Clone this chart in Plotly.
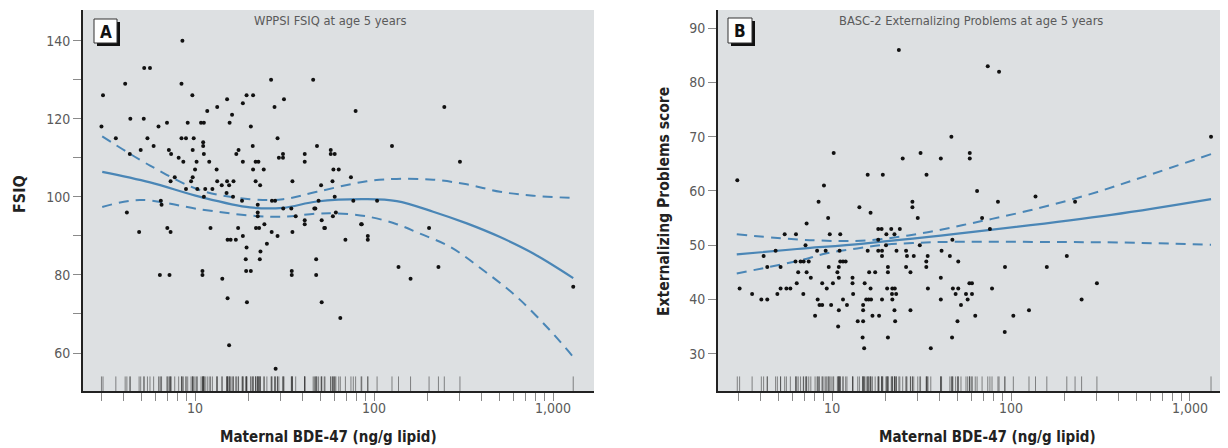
import plotly.graph_objects as go

# The page has an 8 px body margin, so the figure is drawn 8 px smaller
# and all pixel positions below are measured in window coordinates.
WIN_W, WIN_H = 1228, 448
OFF = 8
W, H = WIN_W - OFF, WIN_H - OFF

# ---------------- Panel A: WPPSI FSIQ ----------------
a_bde = [8.5, 5.2, 5.6, 4.07, 8.4, 26.6, 45.7, 3.06, 9.66, 19.4,
         21.1, 15.1, 31.4, 18.5, 13.3, 11.7, 27.8, 16.1, 4.35, 5.17,
         3.0, 6.25, 6.97, 9.1, 10.8, 11.2, 15.6, 20.5, 3.61, 5.42,
         8.4, 8.9, 9.83, 28.9, 5.87, 4.97, 11.1, 11.1, 21.0, 48,
         7.14, 9.7, 17.5, 17.0, 7.35, 4.32, 11.2, 31, 31, 41,
         41, 29.4, 8.1, 8.6, 10.2, 12.0, 18.5, 21.8, 22.6, 21.1,
         24.2, 13.2, 10.0, 9.7, 9.5, 7.7, 7.3, 13.3, 15.1, 15.5,
         16.4, 14.1, 21.8, 23.1, 35, 8.9, 10.3, 11.4, 12.5, 15.0,
         16.3, 11.2, 18.3, 26.9, 28.0, 6.44, 6.5, 4.16, 22.4, 22.4,
         22.4, 31.1, 34.5, 47, 36.5, 41, 41, 24.4, 7.0, 12.2,
         17.4, 21.9, 22.8, 4.87, 7.3, 18.5, 26.8, 28.9, 35.0, 15.2,
         15.8, 16.9, 19.4, 25.2, 23.2, 19.2, 23.0, 47.5, 19.3, 20.5,
         11.0, 11.0, 6.36, 7.2, 34.7, 34.7, 47.5, 14.2, 15.2, 19.5,
         15.5, 28.2, 78.9, 247, 57.3, 57.3, 60.3, 126, 302, 59.3,
         63.5, 74.3, 58.6, 50.6, 49, 60.3, 76.6, 104, 46.4, 58.9,
         61.2, 51, 84.7, 52.7, 203, 53.2, 85.4, 69.2, 92.3, 92.3,
         51, 64.8, 137, 229, 160, 1297]
a_fsiq = [140, 133, 133, 129, 129, 130, 130, 126, 126, 126,
          126, 125, 125, 124, 123, 122, 123, 121, 120, 120,
          118, 118, 119, 119, 119, 119, 119, 118, 115, 115,
          115, 115, 115, 115, 113, 112, 114, 113, 113, 113,
          112, 112, 112, 111, 111, 111, 111, 111, 110, 111,
          109, 110, 110, 109, 109, 109, 109, 109, 109, 107,
          107, 107, 107, 105, 104, 105, 104, 104, 104, 103,
          104, 103, 104, 103, 104, 102, 102, 102, 102, 101,
          100, 100, 99, 99, 99, 99, 98, 96, 98, 96,
          95, 97, 97, 97, 95, 94, 93, 93, 92, 92,
          92, 92, 92, 91, 91, 90, 91, 90, 91, 89,
          89, 89, 87, 88, 86, 84, 84, 84, 81, 81,
          81, 80, 80, 80, 81, 80, 80, 79, 74, 73,
          62, 56, 122, 123, 112, 111, 111, 113, 109, 107,
          107, 105, 104, 103, 99, 100, 99, 99, 97, 95,
          96, 94, 93, 92, 92, 92, 93, 89, 90, 89,
          73, 69, 82, 82, 79, 77]

a_fit_x = [3.03, 5.61, 10.7, 20.3, 31.0, 47.9, 91.0, 134, 214, 330, 506, 776, 1297]
a_fit = [106.4, 103.7, 100.0, 97.3, 97.2, 98.8, 99.4, 98.9, 96.2, 93.2, 89.7, 85.5, 79.2]
a_upper_x = [3.03, 5.61, 10.7, 20.3, 31.0, 47.9, 91.0, 134, 214, 330, 506, 776, 1297]
a_upper = [115.5, 108.0, 101.7, 99.4, 99.4, 101.3, 104.0, 104.6, 104.4, 103.2, 101.3, 100.3, 99.7]
a_lower_x = [3.03, 4.9, 10.7, 20.3, 31.0, 47.9, 60, 91, 134, 180, 266, 408, 627, 962, 1297]
a_lower = [97.4, 99.2, 96.8, 95.2, 94.9, 95.7, 95.8, 95.0, 93.0, 90.6, 87.2, 81.2, 74.4, 65.8, 59.0]

# ---------------- Panel B: BASC-2 Externalizing ----------------
b_bde = [23.6, 2.95, 10.2, 9.0, 8.4, 9.5, 7.2, 14.2, 16.4, 15.8,
         19.2, 24.8, 31.2, 33.7, 28.1, 28.1, 30.1, 40.5, 74.1, 85.7,
         46.4, 58.8, 58.8, 1312, 64.6, 84.5, 137, 228, 68.9, 76.2,
         47, 30.9, 28.6, 34.2, 40.9, 45.5, 50.7, 33.6, 33.6, 92.5,
         158.5, 205, 302, 248, 27.4, 40.5, 34.3, 47.3, 50.7, 49,
         56, 60.5, 58.5, 60.5, 78.3, 40.5, 57.2, 52.5, 27.4, 63.1,
         103, 126, 50.2, 92.2, 46.8, 35.6, 3.04, 3.57, 4.02, 4.34,
         4.14, 4.34, 4.83, 4.94, 5.15, 5.15, 5.55, 5.84, 5.43, 6.28,
         6.24, 6.66, 6.34, 6.9, 6.46, 7.1, 6.93, 7.4, 7.2, 7.6,
         8.03, 8.24, 8.3, 8.5, 8.8, 8.8, 9.2, 9.33, 9.57, 9.7,
         9.87, 10.1, 10.7, 10.9, 10.9, 10.9, 11.1, 11.0, 10.8, 11.1,
         11.5, 11.9, 11.5, 12.1, 13.0, 13.0, 13.1, 13.9, 14.9, 14.8,
         15.1, 14.9, 14.9, 15.2, 15.5, 16.0, 16.5, 15.8, 16.1, 17.4,
         16.4, 16.8, 18.3, 19.0, 18.1, 18.9, 18.1, 19.0, 19.0, 18.1,
         20.1, 20.5, 20.5, 20.3, 20.5, 21.4, 22.3, 23.9, 21.7, 22.4,
         21.6, 22.8, 21.7, 22.3, 22.5, 22.9, 25.9, 26.2, 25.9, 20.0]
b_ext = [86, 62, 67, 61, 58, 55, 54, 57, 56, 63,
         63, 66, 67, 63, 58, 57, 55, 66, 83, 82,
         70, 67, 66, 70, 60, 58, 59, 58, 55, 53,
         51, 50, 48, 48, 49, 48, 47, 47, 46, 46,
         46, 48, 43, 40, 45, 44, 42, 42, 42, 41,
         41, 41, 43, 43, 42, 40, 40, 39, 38, 37,
         37, 38, 36, 34, 33, 31, 42, 41, 40, 40,
         48, 46, 49, 41, 46, 42, 42, 42, 52, 52,
         47, 47, 43, 41, 45, 50, 47, 47, 45, 44,
         37, 49, 40, 39, 39, 43, 49, 42, 46, 52,
         39, 43, 45, 44, 46, 38, 52, 49, 35, 47,
         47, 47, 40, 39, 44, 43, 41, 36, 36, 33,
         31, 39, 38, 43, 40, 40, 40, 49, 45, 45,
         42, 37, 37, 40, 53, 53, 49, 49, 48, 51,
         52, 46, 45, 42, 33, 53, 52, 53, 42, 42,
         41, 41, 40, 38, 36, 49, 49, 48, 46, 50]

b_fit_x = [2.93, 6.37, 15.0, 59.7, 363, 1312]
b_fit = [48.3, 49.3, 50.3, 52.4, 55.6, 58.5]
b_upper_x = [2.93, 7.94, 15.8, 31.6, 63.1, 126, 263, 550, 1312]
b_upper = [52.0, 50.9, 50.9, 52.2, 54.2, 56.4, 59.2, 62.6, 66.8]
b_lower_x = [2.93, 4.47, 6.61, 9.33, 13.8, 20.0, 28.2, 41.7, 158, 398, 1312]
b_lower = [44.8, 46.0, 47.2, 48.5, 49.4, 50.1, 50.4, 50.6, 50.6, 50.5, 50.1]

# ---------------- axis settings ----------------
a_xrange = [0.374, 3.229]
a_yrange = [50.27, 147.86]
b_xrange = [0.362, 3.196]
b_yrange = [23.12, 93.37]

minor_x = [3, 4, 5, 6, 7, 8, 9, 10, 20, 30, 40, 50, 60, 70, 80, 90,
           100, 200, 300, 400, 500, 600, 700, 800, 900, 1000]
major_labels = {10: "10", 100: "100", 1000: "1,000"}
x_ticktext = [major_labels.get(v, "") for v in minor_x]

a_yticks = [60, 70, 80, 90, 100, 110, 120, 130, 140]
a_yticktext = ["60", "", "80", "", "100", "", "120", "", "140"]
b_yticks = [30, 40, 50, 60, 70, 80, 90]

FONT = "Liberation Sans Narrow, DejaVu Sans Condensed, Arial Narrow, sans-serif"
BLUE = "#4a86b6"
BG = "#dde0e2"


def px(x):
    return (x - OFF) / W


def py(y):
    return 1 - (y - OFF) / H


fig = go.Figure()


def add_panel(xs, ys, fx, fy, ux, uy, lx, ly, xr, yr, xa, ya):
    rug_y = yr[0] + (yr[1] - yr[0]) * 0.018
    fig.add_trace(go.Scatter(
        x=xs, y=[rug_y] * len(xs), mode="markers", xaxis=xa, yaxis=ya,
        marker=dict(symbol="line-ns", size=11,
                    line=dict(width=1, color="rgba(50,50,50,0.55)")),
        hoverinfo="skip", showlegend=False))
    for cx, cy, dash, w in ((ux, uy, "10px,7px", 2), (lx, ly, "10px,7px", 2),
                            (fx, fy, "solid", 2.2)):
        fig.add_trace(go.Scatter(
            x=cx, y=cy, mode="lines", xaxis=xa, yaxis=ya,
            line=dict(color=BLUE, width=w, dash=dash, shape="spline", smoothing=1.0),
            hoverinfo="skip", showlegend=False))
    fig.add_trace(go.Scatter(
        x=xs, y=ys, mode="markers", xaxis=xa, yaxis=ya,
        marker=dict(size=4, color="#111111", line=dict(width=0)),
        showlegend=False))


add_panel(a_bde, a_fsiq, a_fit_x, a_fit, a_upper_x, a_upper, a_lower_x, a_lower,
          a_xrange, a_yrange, "x", "y")
add_panel(b_bde, b_ext, b_fit_x, b_fit, b_upper_x, b_upper, b_lower_x, b_lower,
          b_xrange, b_yrange, "x2", "y2")

tickfont = dict(family=FONT, size=14, color="#5a5a5a")
xcommon = dict(type="log", tickvals=minor_x, ticktext=x_ticktext, ticks="outside",
               ticklen=8, tickwidth=1, tickcolor="#8a8a8a", showline=True,
               linecolor="#222222", linewidth=2, showgrid=False, zeroline=False,
               tickfont=tickfont, fixedrange=True, ticklabelstandoff=-5)
ycommon = dict(ticks="outside", ticklen=8, tickwidth=1, tickcolor="#8a8a8a",
               showline=True, linecolor="#222222", linewidth=2, showgrid=False,
               zeroline=False, tickfont=tickfont, fixedrange=True, ticklabelstandoff=0)

fig.update_layout(
    width=W, height=H, autosize=False,
    margin=dict(l=0, r=0, t=0, b=0),
    paper_bgcolor="white", plot_bgcolor=BG,
    showlegend=False,
    xaxis=dict(domain=[px(83), px(594)], range=a_xrange, anchor="y", **xcommon),
    yaxis=dict(domain=[py(391), py(10)], range=a_yrange, anchor="x",
               tickvals=a_yticks, ticktext=a_yticktext, **ycommon),
    xaxis2=dict(domain=[px(718), px(1225)], range=b_xrange, anchor="y2", **xcommon),
    yaxis2=dict(domain=[py(391), py(10)], range=b_yrange, anchor="x2",
                tickvals=b_yticks, **ycommon),
)

# Panel letter boxes (shadow + white box)
shapes = []
for (x0, y0, x1, y1) in ((94, 19, 117, 43), (728, 18, 752, 43)):
    shapes.append(dict(type="rect", xref="paper", yref="paper",
                       x0=px(x0 + 3), x1=px(x1 + 3), y0=py(y1 + 3), y1=py(y0 + 3),
                       fillcolor="#111111", line=dict(width=0), layer="above"))
    shapes.append(dict(type="rect", xref="paper", yref="paper",
                       x0=px(x0), x1=px(x1), y0=py(y1), y1=py(y0),
                       fillcolor="white", line=dict(width=1, color="#333333"),
                       layer="above"))
fig.update_layout(shapes=shapes)

annotations = [
    dict(text="<b>A</b>", x=px(105.5), y=py(31.5), size=17, color="#111111"),
    dict(text="<b>B</b>", x=px(740), y=py(31), size=17, color="#111111"),
    dict(text="WPPSI FSIQ at age 5 years", x=px(330), y=py(21), size=12.8, color="#5a5a5a"),
    dict(text="BASC-2 Externalizing Problems at age 5 years", x=px(971), y=py(21),
         size=12.8, color="#5a5a5a"),
    dict(text="<b>Maternal BDE-47 (ng/g lipid)</b>", x=px(328), y=py(437), size=15,
         color="#222222"),
    dict(text="<b>Maternal BDE-47 (ng/g lipid)</b>", x=px(987), y=py(437), size=15,
         color="#222222"),
    dict(text="<b>FSIQ</b>", x=px(19), y=py(194), size=16, color="#222222", textangle=-90),
    dict(text="<b>Externalizing Problems score</b>", x=px(664), y=py(202), size=15.5,
         color="#222222", textangle=-90),
]
for a in annotations:
    fig.add_annotation(
        text=a["text"], x=a["x"], y=a["y"], xref="paper", yref="paper",
        xanchor="center", yanchor="middle", showarrow=False,
        textangle=a.get("textangle", 0),
        font=dict(family=FONT, size=a["size"], color=a["color"]))

fig.write_html("out.html")
